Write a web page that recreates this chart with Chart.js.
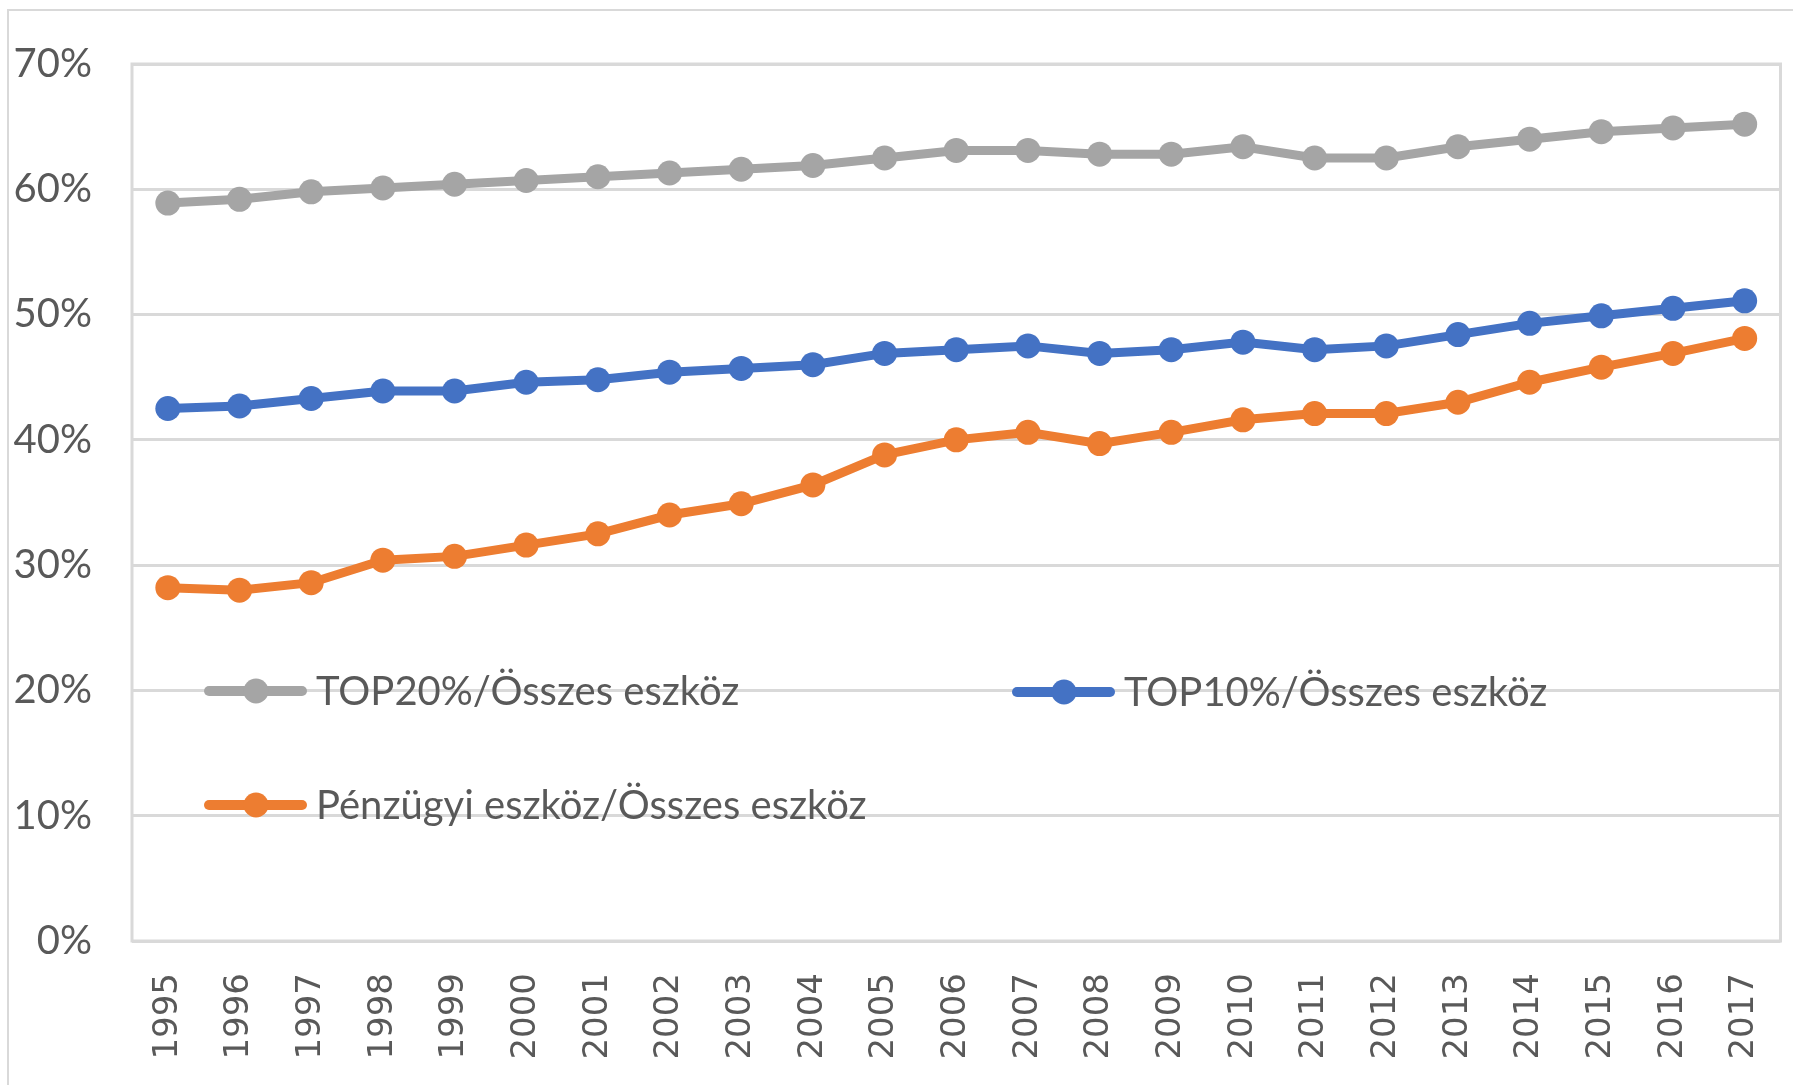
<!DOCTYPE html>
<html>
<head>
<meta charset="utf-8">
<script src="https://cdn.jsdelivr.net/npm/chart.js@4.4.0/dist/chart.umd.min.js"></script>
<style>
  html, body { margin: 0; padding: 0; background: #fff; }
  canvas { display: block; }
</style>
</head>
<body>
<canvas id="chart" width="1793" height="1085"></canvas>
<script>
// --- data ---
const years = ['1995','1996','1997','1998','1999','2000','2001','2002','2003','2004','2005','2006',
               '2007','2008','2009','2010','2011','2012','2013','2014','2015','2016','2017'];
const top20Share = [58.9, 59.2, 59.8, 60.1, 60.4, 60.7, 61.0, 61.3, 61.6, 61.9, 62.5, 63.1,
                    63.1, 62.8, 62.8, 63.4, 62.5, 62.5, 63.4, 64.0, 64.6, 64.9, 65.2];
const top10Share = [42.5, 42.7, 43.3, 43.9, 43.9, 44.6, 44.8, 45.4, 45.7, 46.0, 46.9, 47.2,
                    47.5, 46.9, 47.2, 47.8, 47.2, 47.5, 48.4, 49.3, 49.9, 50.5, 51.1];
const financialShare = [28.2, 28.0, 28.6, 30.4, 30.7, 31.6, 32.5, 34.0, 34.9, 36.4, 38.8, 40.0,
                        40.6, 39.7, 40.6, 41.6, 42.1, 42.1, 43.0, 44.6, 45.8, 46.9, 48.1];
const seriesLabels = ['TOP20%/Összes eszköz', 'TOP10%/Összes eszköz', 'Pénzügyi eszköz/Összes eszköz'];
const seriesColors = ['#A5A5A5', '#4472C4', '#ED7D31'];
const yMin = 0, yMax = 70, yStep = 10;

const textColor = '#595959';
const gridColor = '#D9D9D9';

const makeSet = (i, data) => ({
    label: seriesLabels[i],
    data: data,
    borderColor: seriesColors[i],
    backgroundColor: seriesColors[i],
    borderWidth: 9,
    pointRadius: 12.5,
    pointHoverRadius: 12.5,
    pointBorderWidth: 0,
    pointBackgroundColor: seriesColors[i],
    tension: 0,
    fill: false
});

// frame around chart + plot area, drawn under the data
const framePlugin = {
    id: 'frame',
    beforeDraw(chart) {
        const { ctx, chartArea: a } = chart;
        ctx.save();
        ctx.fillStyle = '#fff';
        ctx.fillRect(0, 0, chart.width, chart.height);
        ctx.strokeStyle = gridColor;
        ctx.lineWidth = 2;
        ctx.strokeRect(8, 10, chart.width + 20, chart.height + 20);
        ctx.lineWidth = 3;
        ctx.strokeRect(a.left, a.top, a.right - a.left, a.bottom - a.top);
        ctx.restore();
    }
};

// legend sits inside the plot, two items on the first row, one on the second
const legendSpots = [{ x: 204, y: 691 }, { x: 1012, y: 692 }, { x: 204, y: 805 }];
const legendPlugin = {
    id: 'insideLegend',
    afterDatasetsDraw(chart) {
        const ctx = chart.ctx;
        ctx.save();
        chart.data.datasets.forEach((ds, i) => {
            const p = legendSpots[i];
            ctx.strokeStyle = ds.borderColor;
            ctx.lineWidth = 10;
            ctx.lineCap = 'round';
            ctx.beginPath();
            ctx.moveTo(p.x + 5, p.y);
            ctx.lineTo(p.x + 98, p.y);
            ctx.stroke();
            ctx.fillStyle = ds.borderColor;
            ctx.beginPath();
            ctx.arc(p.x + 52, p.y, 12.5, 0, Math.PI * 2);
            ctx.fill();
            ctx.fillStyle = textColor;
            ctx.font = '40px Lato';
            ctx.textBaseline = 'alphabetic';
            ctx.textAlign = 'left';
            ctx.fillText(ds.label, p.x + 112, p.y + 14);
        });
        ctx.restore();
    }
};

const ctx = document.getElementById('chart').getContext('2d');
new Chart(ctx, {
    type: 'line',
    data: {
        labels: years,
        datasets: [makeSet(0, top20Share), makeSet(1, top10Share), makeSet(2, financialShare)]
    },
    options: {
        responsive: false,
        animation: false,
        devicePixelRatio: 1,
        layout: { padding: { left: 0, top: 63, right: 5, bottom: 0 } },
        scales: {
            x: {
                type: 'category',
                offset: true,
                grid: { display: false, drawTicks: false },
                border: { display: false },
                ticks: {
                    color: textColor,
                    font: { family: 'DejaVu Sans', size: 34 },
                    minRotation: 90,
                    maxRotation: 90,
                    padding: 32,
                    autoSkip: false
                },
                afterFit(axis) {
                    axis.height = 144;
                    axis.paddingLeft = 0;
                    axis.paddingRight = 0;
                }
            },
            y: {
                min: yMin,
                max: yMax,
                grid: { color: gridColor, lineWidth: 3, drawTicks: false },
                border: { display: false },
                ticks: {
                    stepSize: yStep,
                    color: textColor,
                    font: { family: 'Lato', size: 40 },
                    padding: 40,
                    callback: (v) => v + '%'
                },
                afterFit(axis) { axis.width = 132; }
            }
        },
        plugins: {
            legend: { display: false },
            tooltip: { enabled: false }
        }
    },
    plugins: [framePlugin, legendPlugin]
});
</script>
</body>
</html>
